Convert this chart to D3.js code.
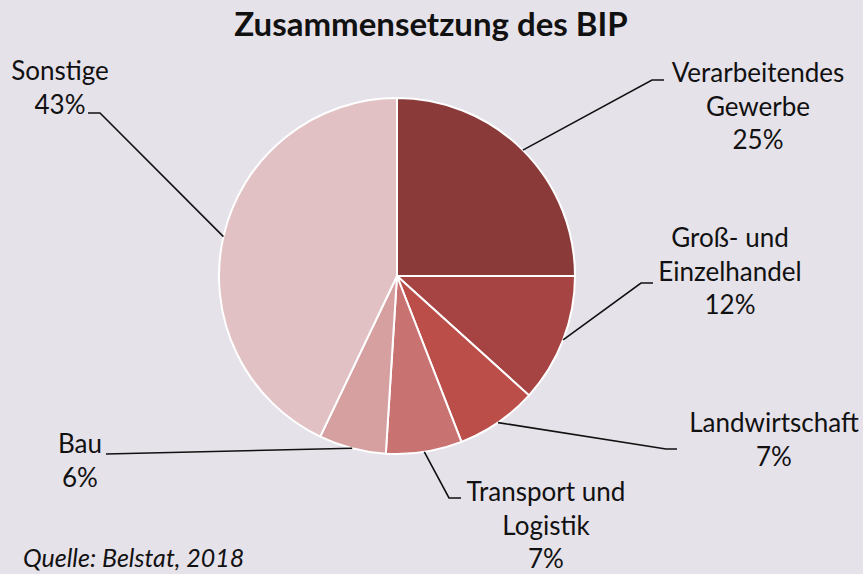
<!DOCTYPE html>
<html>
<head>
<meta charset="utf-8">
<script src="https://cdn.jsdelivr.net/npm/d3@7"></script>
<style>
  html, body { margin: 0; padding: 0; background: #e6e2ea; }
  svg { display: block; }
  text { font-family: Lato, "Open Sans", sans-serif; fill: #111; }
</style>
</head>
<body>
<svg id="chart" width="863" height="574"></svg>
<script>
"use strict"

// sectors, clockwise from 12 o'clock
const sectors = ["Verarbeitendes Gewerbe", "Groß- und Einzelhandel", "Landwirtschaft", "Transport und Logistik", "Bau", "Sonstige"]
const shares = [25.0, 11.7, 7.4, 6.9, 6.1, 42.9]
const labelLines = [
  ["Verarbeitendes", "Gewerbe"],
  ["Groß- und", "Einzelhandel"],
  ["Landwirtschaft"],
  ["Transport und", "Logistik"],
  ["Bau"],
  ["Sonstige"]
]
const colors = ["#8b3a3a", "#a54442", "#bc4e4a", "#c97272", "#d6a0a1", "#e2c1c4"]

// label layout: text centre x, first baseline y, elbow point, end of leader
const layout = [
  { x: 758, y: 82, elbow: [652, 80], end: [664, 80] },
  { x: 730, y: 247, elbow: [641, 283], end: [653, 283] },
  { x: 774, y: 432, elbow: [666, 449], end: [677, 449] },
  { x: 546, y: 501, elbow: [449, 498], end: [461, 498] },
  { x: 80, y: 453, elbow: [106, 454], end: [106, 454] },
  { x: 60, y: 80, elbow: [100, 113], end: [88, 113] }
]

const width = 863, height = 574
const cx = 397, cy = 276, radius = 178
const lineH = 33.5

const svg = d3.select("#chart")

svg.append("text")
  .attr("x", 431)
  .attr("y", 36)
  .attr("text-anchor", "middle")
  .style("font-weight", "bold")
  .style("font-size", "33px")
  .text("Zusammensetzung des BIP")

const data = sectors.map((name, i) => ({ name, value: shares[i], i }))

const pie = d3.pie()
  .sort(null)
  .value(d => d.value)

const arc = d3.arc()
  .innerRadius(0)
  .outerRadius(radius)

const arcs = pie(data)

const g = svg.append("g")
  .attr("transform", `translate(${cx},${cy})`)

g.selectAll("path")
  .data(arcs)
  .enter().append("path")
    .attr("d", arc)
    .attr("fill", d => colors[d.data.i])
    .attr("stroke", "#fff")
    .attr("stroke-width", 2)
    .attr("stroke-linejoin", "round")

// leader lines from the arc edge at the slice's middle angle
svg.append("g")
  .selectAll("polyline")
  .data(arcs)
  .enter().append("polyline")
    .attr("points", d => {
      const a = (d.startAngle + d.endAngle) / 2
      const p = [cx + radius * Math.sin(a), cy - radius * Math.cos(a)]
      const l = layout[d.data.i]
      return [p, l.elbow, l.end].map(q => q.join(",")).join(" ")
    })
    .attr("fill", "none")
    .attr("stroke", "#111")
    .attr("stroke-width", 1.6)

const labels = svg.append("g")
  .selectAll("text")
  .data(arcs)
  .enter().append("text")
    .attr("text-anchor", "middle")
    .style("font-size", "26px")

labels.each(function (d) {
  const l = layout[d.data.i]
  const lines = labelLines[d.data.i].concat([Math.round(d.data.value) + "%"])
  d3.select(this).selectAll("tspan")
    .data(lines)
    .enter().append("tspan")
      .attr("x", l.x)
      .attr("y", (t, k) => l.y + k * lineH)
      .text(t => t)
})

svg.append("text")
  .attr("x", 23)
  .attr("y", 567)
  .style("font-style", "italic")
  .style("font-size", "25px")
  .text("Quelle: Belstat, 2018")
</script>
</body>
</html>
